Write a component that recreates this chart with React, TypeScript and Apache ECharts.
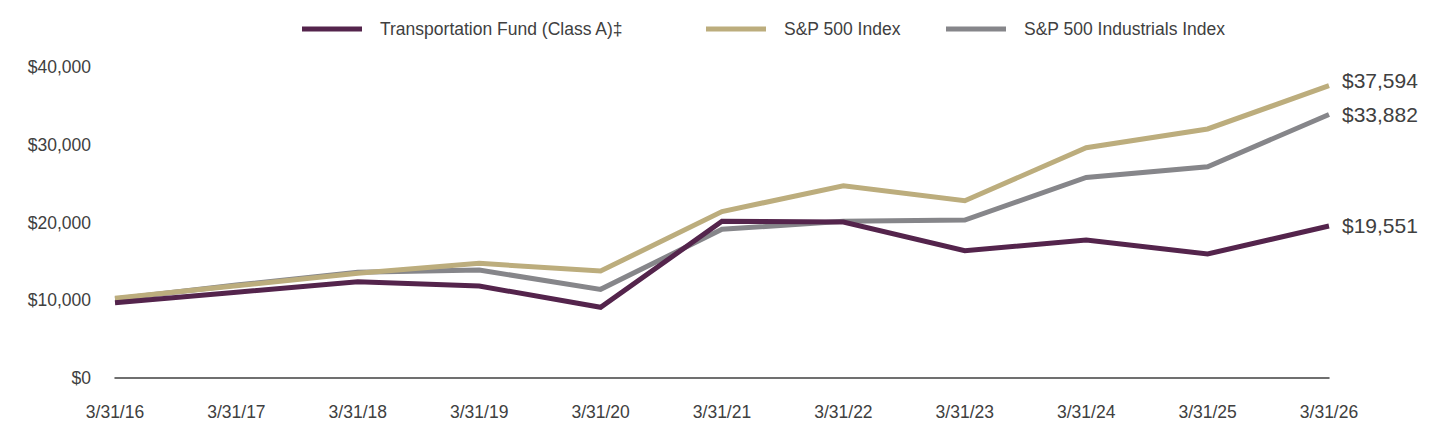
import React, { useEffect, useRef } from "react";
import * as echarts from "echarts";

// Growth of a $10,000 investment, fiscal year-ends
const categories = [
  "3/31/16", "3/31/17", "3/31/18", "3/31/19", "3/31/20", "3/31/21",
  "3/31/22", "3/31/23", "3/31/24", "3/31/25", "3/31/26",
];
const fundValues = [9680, 11030, 12390, 11830, 9090, 20150, 20050, 16370, 17750, 15950, 19551];
const sp500Values = [10250, 11860, 13470, 14750, 13760, 21400, 24730, 22800, 29620, 32030, 37594];
const industrialsValues = [10150, 11950, 13600, 13890, 11400, 19130, 20150, 20320, 25800, 27180, 33882];

const fundName = "Transportation Fund (Class A)\u2021";
const spName = "S&P 500 Index";
const indName = "S&P 500 Industrials Index";

const yTicks = [0, 10000, 20000, 30000, 40000];

const FONT = "'Liberation Sans', Arial, sans-serif";
const TEXT = "#404040";
const PURPLE = "#54244c";
const TAN = "#bcad7d";
const GRAY = "#86868a";

const money = (v: number) => "$" + v.toLocaleString("en-US");

function legendFor(name: string, left: number) {
  return {
    data: [name],
    left,
    top: 20,
    padding: 0,
    icon: "rect",
    itemWidth: 60,
    itemHeight: 5,
    selectedMode: false,
    textStyle: {
      fontFamily: FONT,
      fontSize: 17.5,
      color: TEXT,
      padding: [0, 0, 0, 13],
    },
  };
}

function lineSeries(name: string, data: number[], color: string, z: number, labelOffset: number[]) {
  return {
    name,
    type: "line",
    data,
    z,
    symbol: "none",
    lineStyle: { color, width: 5, join: "miter" },
    itemStyle: { color },
    endLabel: {
      show: true,
      formatter: (p: any) => money(p.value),
      fontFamily: FONT,
      fontSize: 21,
      color: TEXT,
      distance: 13,
      offset: labelOffset,
    },
  };
}

export default function App() {
  const ref = useRef<HTMLDivElement>(null);

  useEffect(() => {
    if (!ref.current) return;
    const chart = echarts.init(ref.current, null, { renderer: "svg" });
    chart.setOption({
      animation: false,
      backgroundColor: "#ffffff",
      legend: [
        legendFor(fundName, 302),
        legendFor(spName, 706),
        legendFor(indName, 946),
      ],
      grid: { left: 115, right: 111, top: 67, bottom: 66, containLabel: false },
      xAxis: {
        type: "category",
        data: categories,
        boundaryGap: false,
        axisLine: { show: true, lineStyle: { color: TEXT, width: 1.5 } },
        axisTick: { show: false },
        axisLabel: {
          fontFamily: FONT,
          fontSize: 17.5,
          color: TEXT,
          margin: 25,
          interval: 0,
        },
        splitLine: { show: false },
      },
      yAxis: {
        type: "value",
        min: yTicks[0],
        max: yTicks[yTicks.length - 1],
        interval: 10000,
        axisLine: { show: false },
        axisTick: { show: false },
        splitLine: { show: false },
        axisLabel: {
          fontFamily: FONT,
          fontSize: 17.5,
          color: TEXT,
          margin: 24,
          formatter: (v: number) => money(v),
        },
      },
      series: [
        lineSeries(indName, industrialsValues, GRAY, 2, [0, 0]),
        lineSeries(spName, sp500Values, TAN, 3, [0, -5]),
        lineSeries(fundName, fundValues, PURPLE, 4, [0, 0]),
      ],
    });
    return () => chart.dispose();
  }, []);

  return (
    <div
      ref={ref}
      style={{ position: "fixed", left: 0, top: 0, width: 1440, height: 444 }}
    />
  );
}
